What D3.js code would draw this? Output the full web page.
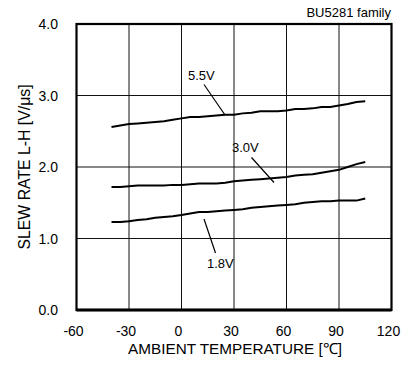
<!DOCTYPE html>
<html><head><meta charset="utf-8">
<script src="https://cdn.jsdelivr.net/npm/d3@7"></script>
<style>body{margin:0;background:#fff}svg{display:block;font-family:"Liberation Sans",Arial,sans-serif}</style>
</head><body><svg id="c" width="416" height="370"></svg>
<script>
const temps = [-40,-35,-30,-25,-20,-15,-10,-5,0,5,10,15,20,25,30,35,40,45,50,55,60,65,70,75,80,85,90,95,100,105];
const v55 = [2.56,2.58,2.60,2.61,2.62,2.63,2.64,2.66,2.68,2.70,2.70,2.71,2.72,2.73,2.73,2.75,2.76,2.78,2.78,2.78,2.79,2.81,2.81,2.82,2.84,2.84,2.86,2.88,2.91,2.92];
const v30 = [1.72,1.72,1.73,1.74,1.74,1.74,1.74,1.75,1.75,1.76,1.77,1.77,1.77,1.78,1.80,1.81,1.82,1.83,1.84,1.85,1.86,1.88,1.89,1.90,1.92,1.94,1.96,2.00,2.04,2.07];
const v18 = [1.23,1.23,1.24,1.26,1.27,1.29,1.30,1.31,1.33,1.35,1.37,1.37,1.38,1.39,1.40,1.41,1.43,1.44,1.45,1.46,1.47,1.48,1.50,1.51,1.52,1.52,1.53,1.53,1.53,1.56];
const xTicks = [-60,-30,0,30,60,90,120];
const yTicks = [0,1,2,3,4];
const seriesNames = ["5.5V","3.0V","1.8V"];
const title = "BU5281 family";
const xLabel = "AMBIENT TEMPERATURE [\u2103]";
const yLabel = "SLEW RATE L-H [V/\u03bcs]";

const svg = d3.select("#c");
const x = d3.scaleLinear().domain([-60,120]).range([76.5,391.5]);
const y = d3.scaleLinear().domain([0,4]).range([310,24]);

// grid
const g = svg.append("g");
g.selectAll("line.vx").data(xTicks.slice(1,-1)).join("line")
  .attr("x1",d=>x(d)).attr("x2",d=>x(d)).attr("y1",y(4)).attr("y2",y(0))
  .attr("stroke","#111").attr("stroke-width",1);
g.selectAll("line.hy").data(yTicks.slice(1,-1)).join("line")
  .attr("y1",d=>y(d)).attr("y2",d=>y(d)).attr("x1",x(-60)).attr("x2",x(120))
  .attr("stroke","#111").attr("stroke-width",1);

// frame
svg.append("rect").attr("x",x(-60)).attr("y",y(4)).attr("width",x(120)-x(-60)).attr("height",y(0)-y(4))
  .attr("fill","none").attr("stroke","#000").attr("stroke-width",2.2);
svg.append("line").attr("x1",x(-60)).attr("x2",x(120)).attr("y1",y(0)).attr("y2",y(0)).attr("stroke","#000").attr("stroke-width",3);

// tick labels
svg.selectAll("text.xt").data(xTicks).join("text")
  .attr("x",d=>x(d)-3).attr("y",336).attr("text-anchor","middle")
  .attr("font-size",14).text(d=>d);
svg.selectAll("text.yt").data(yTicks).join("text")
  .attr("x",58).attr("y",d=>y(d)+5).attr("text-anchor","end")
  .attr("font-size",14).text(d=>d.toFixed(1));

// axis titles
svg.append("text").attr("x",235).attr("y",354).attr("text-anchor","middle").attr("font-size",15.3).text(xLabel);
svg.append("text").attr("transform","translate(30,167) rotate(-90)").attr("text-anchor","middle").attr("font-size",15.8).text(yLabel);
svg.append("text").attr("x",391).attr("y",17).attr("text-anchor","end").attr("font-size",13).text(title);

// lines
const line = d3.line().x((d,i)=>x(temps[i])).y(d=>y(d));
[v55,v30,v18].forEach(s=>{
  svg.append("path").attr("d",line(s)).attr("fill","none").attr("stroke","#000").attr("stroke-width",2);
});

// annotations
const ann = [
  {t:seriesNames[0], tx:188, ty:80, l:[204,84.5,225,115]},
  {t:seriesNames[1], tx:232, ty:152, l:[251.5,157.5,274,182.5]},
  {t:seriesNames[2], tx:207, ty:268, l:[204,219,215.5,253]}
];
ann.forEach(a=>{
  svg.append("text").attr("x",a.tx).attr("y",a.ty).attr("font-size",13).text(a.t);
  svg.append("line").attr("x1",a.l[0]).attr("y1",a.l[1]).attr("x2",a.l[2]).attr("y2",a.l[3]).attr("stroke","#000").attr("stroke-width",1.2);
});
</script></body></html>
